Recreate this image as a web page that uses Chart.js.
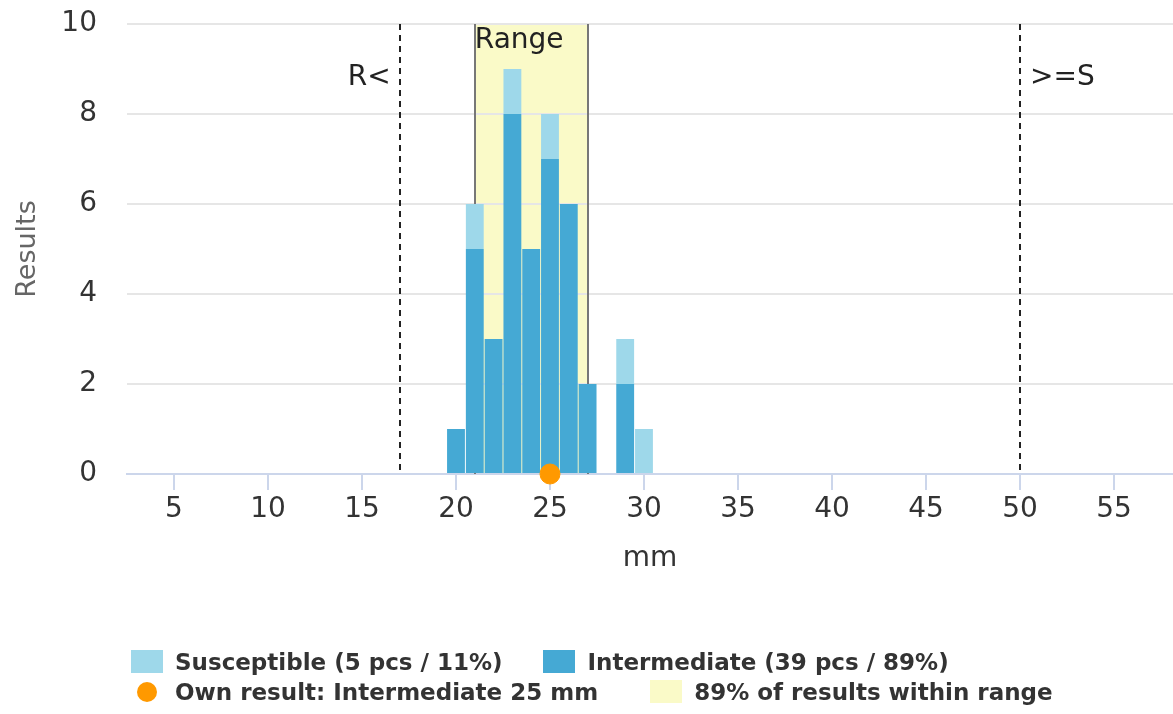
<!DOCTYPE html>
<html>
<head>
<meta charset="utf-8">
<script src="https://cdn.jsdelivr.net/npm/chart.js@4.4.1/dist/chart.umd.min.js"></script>
<style>
  html, body { margin: 0; padding: 0; background: #fff; }
  #wrap { position: relative; width: 1173px; height: 714px; overflow: hidden; }
  #c { position: absolute; left: 0; top: 0; }
  .row { position: absolute; left: 131px; display: flex; align-items: center; white-space: nowrap;
         font-family: "DejaVu Sans", sans-serif; font-weight: bold; font-size: 23px; color: #333; }
  .item { display: flex; align-items: center; }
  .sym { display: inline-block; width: 32px; height: 23px; margin-right: 12px; }
  .dot { display: inline-block; width: 20px; height: 20px; border-radius: 50%; margin: 0 18px 0 6px; }
</style>
</head>
<body>
<div id="wrap">
  <canvas id="c" width="1173" height="714"></canvas>
  <div id="row1" class="row" style="top:650px;height:23px;"></div>
  <div id="row2" class="row" style="top:680px;height:23px;"></div>
</div>
<script>
// ---- data ----
const mmValues      = [20, 21, 22, 23, 24, 25, 26, 27, 28, 29, 30];
const intermediate  = [1, 5, 3, 8, 5, 7, 6, 2, 0, 2, 0];
const susceptible   = [0, 1, 0, 1, 0, 1, 0, 0, 0, 1, 1];
const ownResult     = 25;
const ownCategory   = 'Intermediate';
const rangeBounds   = [21, 27];
const breakpointR   = 17;
const breakpointS   = 50;
const xTickValues   = [5, 10, 15, 20, 25, 30, 35, 40, 45, 50, 55];
const yTickValues   = [0, 2, 4, 6, 8, 10];

// ---- derived legend labels ----
const sum = a => a.reduce((s, v) => s + v, 0);
const nS = sum(susceptible), nI = sum(intermediate), nAll = nS + nI;
let inRange = 0;
mmValues.forEach((m, i) => { if (m >= rangeBounds[0] && m <= rangeBounds[1]) inRange += intermediate[i] + susceptible[i]; });
const pct = n => Math.round(100 * n / nAll);
const labelS = `Susceptible (${nS} pcs / ${pct(nS)}%)`;
const labelI = `Intermediate (${nI} pcs / ${pct(nI)}%)`;
const labelOwn = `Own result: ${ownCategory} ${ownResult} mm`;
const labelRange = `${pct(inRange)}% of results within range`;

const colS = '#9ed8ea';
const colI = '#45a9d4';
const colOwn = '#ff9900';
const colRange = '#fafac8';
const FONT = '"DejaVu Sans", sans-serif';

const refPlugin = {
  id: 'refs',
  beforeDraw(chart) {
    const { ctx, scales: { x, y } } = chart;
    const x0 = x.getPixelForValue(rangeBounds[0]);
    const x1 = x.getPixelForValue(rangeBounds[1]);
    const yT = y.getPixelForValue(y.max);
    const yB = y.getPixelForValue(0);
    ctx.save();
    ctx.fillStyle = colRange;
    ctx.fillRect(x0, yT, x1 - x0, yB - yT);
    ctx.restore();
  },
  beforeDatasetsDraw(chart) {
    const { ctx, scales: { x, y } } = chart;
    const yT = y.getPixelForValue(y.max);
    const yB = y.getPixelForValue(0);
    ctx.save();
    ctx.strokeStyle = '#777';
    ctx.lineWidth = 2;
    rangeBounds.forEach(v => {
      const px = Math.round(x.getPixelForValue(v));
      ctx.beginPath(); ctx.moveTo(px, yT); ctx.lineTo(px, yB); ctx.stroke();
    });
    ctx.fillStyle = '#222';
    ctx.font = '28px ' + FONT;
    ctx.textAlign = 'left';
    ctx.textBaseline = 'alphabetic';
    ctx.fillText('Range', x.getPixelForValue(rangeBounds[0]), yT + 24);
    ctx.restore();
  },
  afterDatasetsDraw(chart) {
    const { ctx, scales: { x, y } } = chart;
    const yT = y.getPixelForValue(y.max);
    const yB = y.getPixelForValue(0);
    ctx.save();
    ctx.strokeStyle = '#222';
    ctx.lineWidth = 2;
    ctx.setLineDash([6, 5]);
    [breakpointR, breakpointS].forEach(v => {
      const px = Math.round(x.getPixelForValue(v));
      ctx.beginPath(); ctx.moveTo(px, yT); ctx.lineTo(px, yB); ctx.stroke();
    });
    ctx.setLineDash([]);
    ctx.fillStyle = '#222';
    ctx.font = '28px ' + FONT;
    ctx.textBaseline = 'alphabetic';
    ctx.textAlign = 'right';
    ctx.fillText('R<', x.getPixelForValue(breakpointR) - 9, yT + 61);
    ctx.textAlign = 'left';
    ctx.fillText('>=S', x.getPixelForValue(breakpointS) + 10, yT + 61);
    ctx.restore();
  }
};

const chart = new Chart(document.getElementById('c'), {
  data: {
    datasets: [
      {
        type: 'scatter',
        label: labelOwn,
        data: [{ x: ownResult, y: 0 }],
        backgroundColor: colOwn,
        borderColor: colOwn,
        pointRadius: 10,
        pointHoverRadius: 10,
        clip: false,
        order: 0
      },
      {
        type: 'bar',
        label: labelI,
        data: mmValues.map((m, i) => ({ x: m, y: intermediate[i] })),
        backgroundColor: colI,
        borderWidth: 0,
        barPercentage: 1,
        categoryPercentage: 0.95,
        order: 1
      },
      {
        type: 'bar',
        label: labelS,
        data: mmValues.map((m, i) => ({ x: m, y: susceptible[i] })),
        backgroundColor: colS,
        borderWidth: 0,
        barPercentage: 1,
        categoryPercentage: 0.95,
        order: 2
      }
    ]
  },
  options: {
    responsive: false,
    animation: false,
    devicePixelRatio: 1,
    layout: { autoPadding: false, padding: { top: 24, right: 0, bottom: 0, left: 0 } },
    plugins: { legend: { display: false }, tooltip: { enabled: false } },
    scales: {
      x: {
        type: 'linear',
        stacked: true,
        offset: false,
        min: 2.5,
        max: 58.14,
        afterBuildTicks: s => { s.ticks = xTickValues.map(v => ({ value: v })); },
        afterFit: s => { s.height = 240; s.paddingRight = 0; s.paddingLeft = 0; },
        grid: { offset: false, drawOnChartArea: false, drawTicks: true, tickLength: 16, color: '#ccd6eb', lineWidth: 2 },
        border: { display: true, color: '#ccd6eb', width: 2 },
        ticks: { color: '#333', font: { family: FONT, size: 28 }, padding: 3, maxRotation: 0, autoSkip: false },
        title: { display: true, text: 'mm', color: '#333', font: { family: FONT, size: 28 },
                 padding: { top: 0, bottom: 138 } }
      },
      y: {
        stacked: true,
        min: 0,
        max: 10,
        afterBuildTicks: s => { s.ticks = yTickValues.map(v => ({ value: v })); },
        afterFit: s => { s.width = 127; s.paddingTop = 0; s.paddingBottom = 0; },
        grid: { color: '#e6e6e6', lineWidth: 2, drawTicks: false },
        border: { display: false },
        ticks: { color: '#333', font: { family: FONT, size: 28 }, padding: 30 },
        title: { display: true, text: 'Results', color: '#666', font: { family: FONT, size: 27 },
                 padding: { top: 12, bottom: 0 } }
      }
    }
  },
  plugins: [refPlugin]
});

// ---- HTML legend ----
function addItem(row, symCls, color, text, ml) {
  const it = document.createElement('div');
  it.className = 'item';
  if (ml) it.style.marginLeft = ml + 'px';
  const s = document.createElement('span');
  s.className = symCls;
  s.style.background = color;
  const t = document.createElement('span');
  t.textContent = text;
  it.appendChild(s); it.appendChild(t);
  row.appendChild(it);
}
const r1 = document.getElementById('row1'), r2 = document.getElementById('row2');
addItem(r1, 'sym', colS, labelS, 0);
addItem(r1, 'sym', colI, labelI, 41);
addItem(r2, 'dot', colOwn, labelOwn, 0);
addItem(r2, 'sym', colRange, labelRange, 52);
</script>
</body>
</html>
